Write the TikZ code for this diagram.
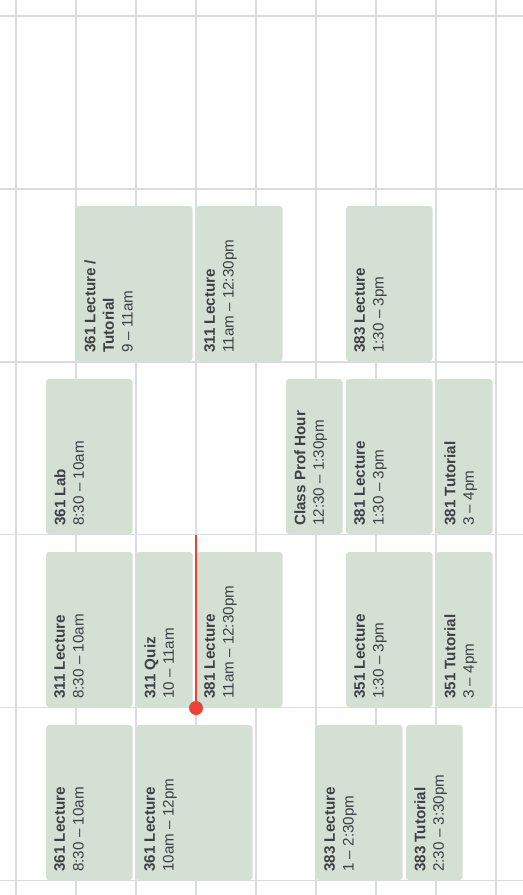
\documentclass[tikz,border=0pt]{standalone}
\usepackage{fontspec}
\setmainfont{Liberation Sans}
\usepackage{xcolor}
\definecolor{gridgray}{HTML}{DADCE0}
\definecolor{evgreen}{HTML}{D5E0D4}
\definecolor{evtextcol}{HTML}{3C4043}
\definecolor{nowred}{HTML}{EA4335}

\begin{document}
\begin{tikzpicture}[x=0.75pt,y=-0.75pt,
  gridline/.style={draw=gridgray,line width=1.1pt},
  evbox/.style={fill=evgreen,rounded corners=2.2pt},
  evtext/.style={rotate=90,anchor=north west,align=left,inner sep=0pt,
    text=evtextcol,font=\fontsize{11.4}{14}\selectfont},
  nowline/.style={draw=nowred,line width=1.5pt},
  nowdotstyle/.style={circle,fill=nowred,inner sep=0pt,minimum size=10.5pt}]
\useasboundingbox (0,0) rectangle (523,895);
% grid
\foreach \gx in {16,76,...,496} \draw[gridline] (\gx,0) -- (\gx,895);
\foreach \gy in {16,188.9,361.8,534.7,707.6,880.5} \draw[gridline] (0,\gy) -- (523,\gy);

% second row
\fill[evbox] (76,206) rectangle (192.5,361);
\node[evtext] (tueA) at (84,353) {\textbf{361 Lecture /}\\\textbf{Tutorial}\\9 -- 11am};
\fill[evbox] (196,206) rectangle (282.5,361);
\node[evtext] (tueB) at (204,353) {\textbf{311 Lecture}\\11am -- 12:30pm};
\fill[evbox] (346,206) rectangle (432.5,361);
\node[evtext] (tueC) at (354,353) {\textbf{383 Lecture}\\1:30 -- 3pm};

% third row
\fill[evbox] (46,379) rectangle (132.5,534);
\node[evtext] (wedA) at (54,526) {\textbf{361 Lab}\\8:30 -- 10am};
\fill[evbox] (286,379) rectangle (342.5,534);
\node[evtext] (wedB) at (294,526) {\textbf{Class Prof Hour}\\12:30 -- 1:30pm};
\fill[evbox] (346,379) rectangle (432.5,534);
\node[evtext] (wedC) at (354,526) {\textbf{381 Lecture}\\1:30 -- 3pm};
\fill[evbox] (436,379) rectangle (492.5,534);
\node[evtext] (wedD) at (444,526) {\textbf{381 Tutorial}\\3 -- 4pm};

% fourth row
\fill[evbox] (46,552) rectangle (132.5,707);
\node[evtext] (thuA) at (54,699) {\textbf{311 Lecture}\\8:30 -- 10am};
\fill[evbox] (136,552) rectangle (192.5,707);
\node[evtext] (thuB) at (144,699) {\textbf{311 Quiz}\\10 -- 11am};
\fill[evbox] (196,552) rectangle (282.5,707);
\node[evtext] (thuC) at (204,699) {\textbf{381 Lecture}\\11am -- 12:30pm};
\fill[evbox] (346,552) rectangle (432.5,707);
\node[evtext] (thuD) at (354,699) {\textbf{351 Lecture}\\1:30 -- 3pm};
\fill[evbox] (436,552) rectangle (492.5,707);
\node[evtext] (thuE) at (444,699) {\textbf{351 Tutorial}\\3 -- 4pm};

% fifth row
\fill[evbox] (46,725) rectangle (132.5,880);
\node[evtext] (friA) at (54,872) {\textbf{361 Lecture}\\8:30 -- 10am};
\fill[evbox] (136,725) rectangle (252.5,880);
\node[evtext] (friB) at (144,872) {\textbf{361 Lecture}\\10am -- 12pm};
\fill[evbox] (316,725) rectangle (402.5,880);
\node[evtext] (friC) at (324,872) {\textbf{383 Lecture}\\1 -- 2:30pm};
\fill[evbox] (406,725) rectangle (462.5,880);
\node[evtext] (friD) at (414,872) {\textbf{383 Tutorial}\\2:30 -- 3:30pm};

% current time marker
\coordinate (nowtop) at (196,535);
\node[nowdotstyle] (nowdot) at (196,708) {};
\draw[nowline] (nowtop) -- (nowdot.center);
\end{tikzpicture}
\end{document}
